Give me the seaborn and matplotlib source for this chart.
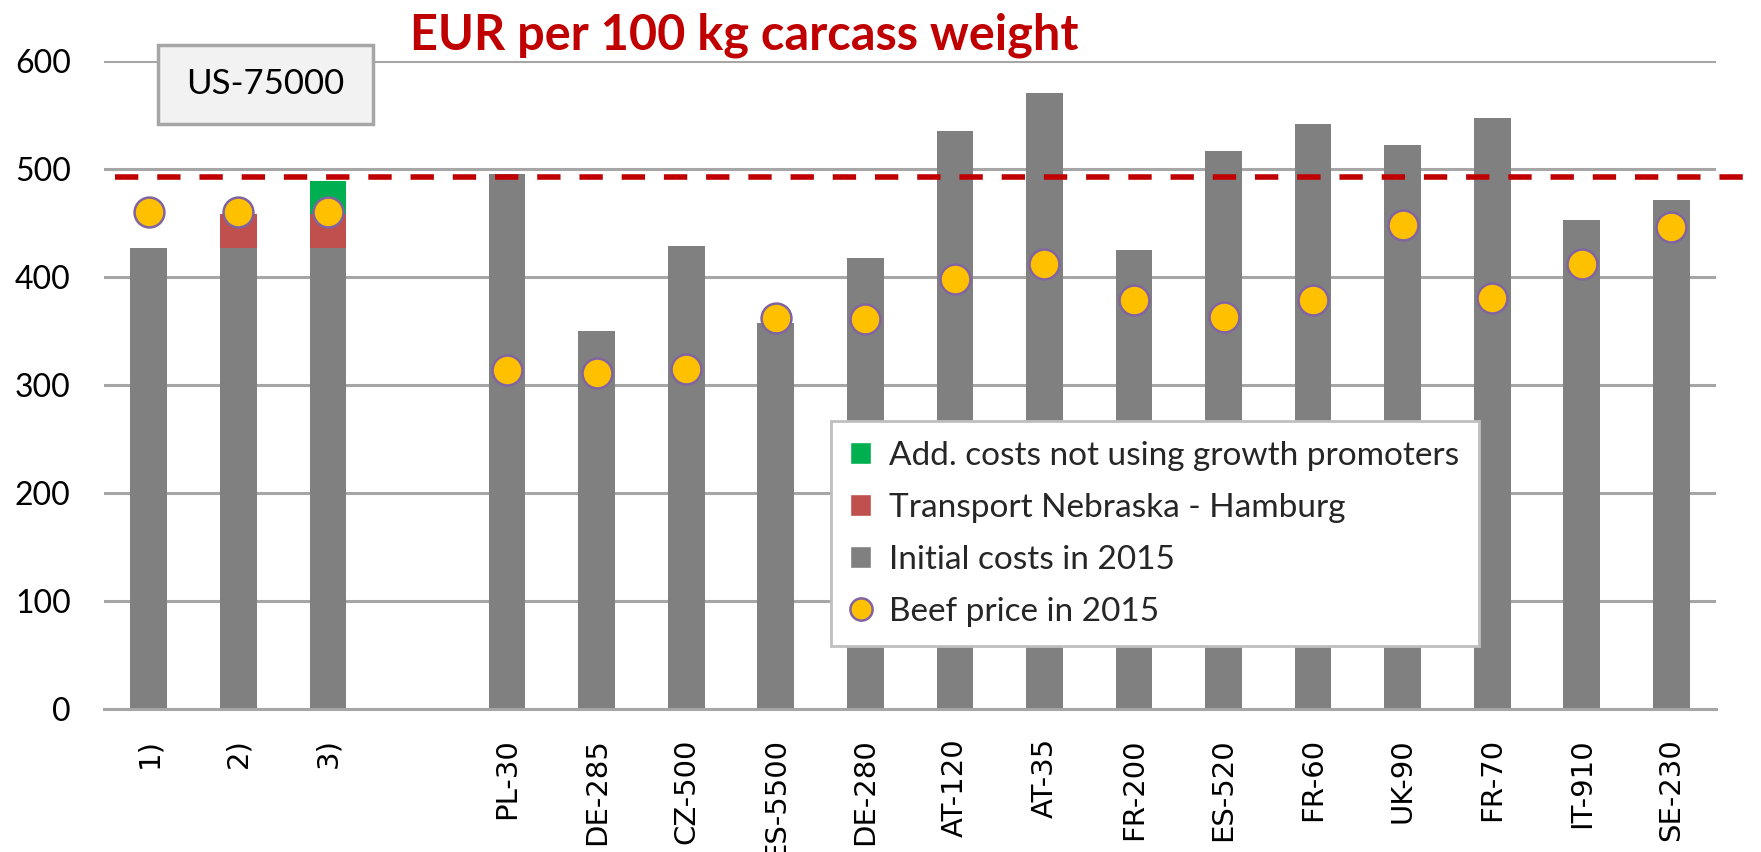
import matplotlib
matplotlib.use("Agg")
import matplotlib.pyplot as plt
import seaborn as sns
import pandas as pd
import numpy as np
from matplotlib.patches import Patch, Rectangle
from matplotlib.lines import Line2D

# values (EUR per 100 kg carcass weight)
categories = ["1)", "2)", "3)", "", "PL-30", "DE-285", "CZ-500", "ES-5500", "DE-280",
              "AT-120", "AT-35", "FR-200", "ES-520", "FR-60", "UK-90", "FR-70", "IT-910", "SE-230"]
initial_costs = [427, 427, 427, 0, 495, 350, 429, 357, 418, 535, 570, 425, 517, 542, 522, 547, 453, 471]
transport = [0, 31, 31, 0, 0, 0, 0, 0, 0, 0, 0, 0, 0, 0, 0, 0, 0, 0]
add_costs = [0, 0, 31, 0, 0, 0, 0, 0, 0, 0, 0, 0, 0, 0, 0, 0, 0, 0]
beef_price = [460, 460, 460, np.nan, 314, 311, 315, 362, 361, 398, 412, 379, 363, 379, 448, 381, 412, 446]
us_level = 493

df = pd.DataFrame({"category": categories, "initial": initial_costs,
                   "transport": transport, "add": add_costs, "price": beef_price})
df["with_transport"] = df["initial"] + df["transport"]
df["total"] = df["with_transport"] + df["add"]

sns.set_theme(style="white")
plt.rcParams["font.family"] = ["Lato", "DejaVu Sans"]

fig = plt.figure(figsize=(17.61, 8.52), dpi=100)
ax = fig.add_axes([0.0591, 0.1678, 0.9154, 0.7606])

green = "#00B050"
red = "#C0504D"
grey = "#808080"

# stacked bars: draw the totals first, lower layers on top
sns.barplot(data=df, x="category", y="total", order=categories, color=green,
            saturation=1, width=0.41, linewidth=0, errorbar=None, ax=ax)
sns.barplot(data=df, x="category", y="with_transport", order=categories, color=red,
            saturation=1, width=0.41, linewidth=0, errorbar=None, ax=ax)
sns.barplot(data=df, x="category", y="initial", order=categories, color=grey,
            saturation=1, width=0.41, linewidth=0, errorbar=None, ax=ax)

ax.axhline(us_level, xmin=0.007, xmax=1.03, color="#C00000", lw=4,
           dashes=(4.2, 3.4), clip_on=False, zorder=4)

sns.stripplot(data=df.dropna(subset=["price"]), x="category", y="price", order=categories,
              jitter=False, size=21.5, color="#FFC000", edgecolor="#8064A2",
              linewidth=1.8, ax=ax, zorder=5)

ax.set_xlim(-0.5, len(categories) - 0.5)
ax.set_ylim(0, 600)
ax.set_yticks(range(0, 700, 100))
ax.set_xlabel("")
ax.set_ylabel("")
ax.set_axisbelow(True)
ax.yaxis.grid(True, color="#A6A6A6", lw=2.2)
ax.xaxis.grid(False)
for s in ["left", "top", "right"]:
    ax.spines[s].set_visible(False)
ax.spines["bottom"].set_color("#A6A6A6")
ax.spines["bottom"].set_linewidth(2.2)

ax.tick_params(axis="y", length=0, pad=24, labelsize=23, labelcolor="black")
ax.set_xticks(range(len(categories)), labels=categories, rotation=90, va="top",
              fontsize=21, fontfamily="DejaVu Sans", color="black")
ax.set_xticks(np.arange(-0.5, len(categories), 1), minor=True)
ax.tick_params(axis="x", which="major", length=0, pad=21)
ax.tick_params(axis="x", which="minor", length=8.4, width=2, color="#A6A6A6", direction="out")

handles = [
    Patch(facecolor=green, label="Add. costs not using growth promoters"),
    Patch(facecolor=red, label="Transport Nebraska - Hamburg"),
    Patch(facecolor=grey, label="Initial costs in 2015"),
    Line2D([], [], marker="o", linestyle="none", markerfacecolor="#FFC000",
           markeredgecolor="#8064A2", markersize=16, markeredgewidth=1.8,
           label="Beef price in 2015"),
]
leg = ax.legend(handles=handles, loc="upper left", bbox_to_anchor=(0.451, 0.444),
                borderaxespad=0, fontsize=24, frameon=True, fancybox=False,
                framealpha=1, edgecolor="#BFBFBF", handlelength=0.62, handleheight=0.62,
                handletextpad=0.55, labelspacing=0.66, borderpad=0.58)
leg.get_frame().set_linewidth(2)
leg.set_zorder(10)

rect = Rectangle((158 / 1761, 1 - 124 / 852), 215 / 1761, 79 / 852, transform=fig.transFigure,
                 facecolor="#F2F2F2", edgecolor="#A6A6A6", lw=2.5, zorder=3)
fig.add_artist(rect)
fig.text(265.5 / 1761, 1 - 84.5 / 852, "US-75000", ha="center", va="center",
         fontsize=25, color="black", zorder=4)

fig.text(744 / 1761, 1 - 50 / 852, "EUR per 100 kg carcass weight", ha="center",
         va="baseline", fontsize=35, fontweight="bold", color="#C00000")

fig.savefig("out.png", dpi=100)
